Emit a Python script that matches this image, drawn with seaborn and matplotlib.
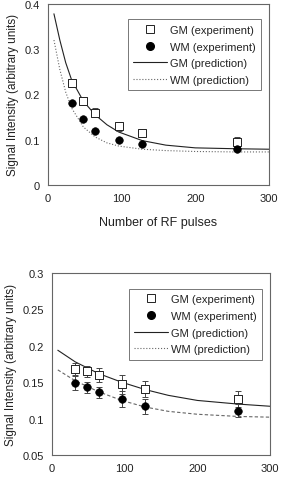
import numpy as np
import pandas as pd
import matplotlib
matplotlib.use("Agg")
import matplotlib.pyplot as plt
import seaborn as sns
from matplotlib.lines import Line2D

# pulse numbers of measurements
pulses = [32, 48, 64, 96, 128, 256]

# top panel
gm_exp_top = [0.225, 0.186, 0.160, 0.130, 0.114, 0.095]
gm_err_top = [0.008, 0.008, 0.010, 0.010, 0.009, 0.010]
wm_exp_top = [0.180, 0.145, 0.120, 0.100, 0.090, 0.080]
wm_err_top = [0.004, 0.004, 0.004, 0.004, 0.004, 0.004]
pred_x_top = [8, 16, 24, 32, 48, 64, 80, 96, 128, 160, 200, 256, 300]
gm_pred_top = [0.378, 0.320, 0.270, 0.232, 0.185, 0.155, 0.133, 0.117, 0.098, 0.088, 0.082, 0.080, 0.079]
wm_pred_top = [0.320, 0.255, 0.205, 0.170, 0.128, 0.106, 0.093, 0.086, 0.079, 0.076, 0.074, 0.073, 0.073]

# bottom panel
gm_exp_bot = [0.168, 0.165, 0.160, 0.147, 0.141, 0.127]
gm_err_bot = [0.008, 0.008, 0.009, 0.013, 0.011, 0.011]
wm_exp_bot = [0.149, 0.143, 0.136, 0.127, 0.117, 0.111]
wm_err_bot = [0.010, 0.008, 0.008, 0.011, 0.010, 0.009]
pred_x_bot = [8, 32, 64, 96, 128, 160, 200, 256, 300]
gm_pred_bot = [0.194, 0.178, 0.162, 0.150, 0.140, 0.132, 0.125, 0.120, 0.117]
wm_pred_bot = [0.167, 0.152, 0.137, 0.125, 0.116, 0.110, 0.106, 0.103, 0.102]

sns.set_theme(style="white")
plt.rcParams['font.family'] = ['Liberation Sans', 'DejaVu Sans']

fig = plt.figure(figsize=(2.81, 4.85), dpi=100)
ax1 = fig.add_axes([0.171, 0.6165, 0.786, 0.3735])
ax2 = fig.add_axes([0.185, 0.0598, 0.776, 0.375])


def draw_panel(ax, gm_exp, gm_err, wm_exp, wm_err, px, gm_pred, wm_pred, wm_ls):
    pred = pd.DataFrame({"x": px, "gm": gm_pred, "wm": wm_pred})
    sns.lineplot(data=pred, x="x", y="gm", ax=ax, color="#222222", lw=0.8)
    sns.lineplot(data=pred, x="x", y="wm", ax=ax, color="#666666", lw=0.8, linestyle=wm_ls)
    ax.errorbar(pulses, gm_exp, yerr=gm_err, fmt="none", ecolor="#444444",
                elinewidth=0.7, capsize=2.5, capthick=0.7)
    ax.errorbar(pulses, wm_exp, yerr=wm_err, fmt="none", ecolor="#444444",
                elinewidth=0.7, capsize=2.5, capthick=0.7)
    exp = pd.DataFrame({"x": pulses, "gm": gm_exp, "wm": wm_exp})
    sns.scatterplot(data=exp, x="x", y="gm", ax=ax, marker="s", s=38,
                    facecolor="white", edgecolor="#222222", linewidth=0.7, zorder=5)
    sns.scatterplot(data=exp, x="x", y="wm", ax=ax, marker="o", s=30,
                    color="black", edgecolor="black", zorder=5)
    for s in ax.spines.values():
        s.set_color("#666666")
        s.set_linewidth(0.8)
    ax.tick_params(axis="both", which="both", direction="out", length=3,
                   width=0.6, color="#666666", labelsize=8, pad=3, labelcolor="#222222")
    ax.set_xlim(0, 300)
    ax.set_xticks([0, 100, 200, 300])
    ax.set_ylabel("Signal Intensity (arbitrary units)", fontsize=8.5, labelpad=4, color="#222222")
    handles = [
        Line2D([], [], marker="s", ls="none", mfc="white", mec="#222222", ms=6, mew=0.7),
        Line2D([], [], marker="o", ls="none", mfc="black", mec="black", ms=5.5),
        Line2D([], [], color="#222222", lw=0.8),
        Line2D([], [], color="#666666", lw=0.8, ls=":"),
    ]
    labels = ["GM (experiment)", "WM (experiment)", "GM (prediction)", "WM (prediction)"]
    leg = ax.legend(handles, labels, loc="upper right", fontsize=8, frameon=True,
                    fancybox=False, edgecolor="#555555", borderpad=0.5,
                    handlelength=3.0, handletextpad=0.3, labelspacing=0.6,
                    bbox_to_anchor=(0.99, 0.945))
    leg.get_frame().set_linewidth(0.7)
    for t in leg.get_texts():
        t.set_color("#222222")


draw_panel(ax1, gm_exp_top, gm_err_top, wm_exp_top, wm_err_top,
           pred_x_top, gm_pred_top, wm_pred_top, ":")
ax1.set_ylim(0, 0.4)
ax1.set_yticks([0, 0.1, 0.2, 0.3, 0.4])
ax1.set_yticklabels(["0", "0.1", "0.2", "0.3", "0.4"])
ax1.set_xlabel("Number of RF pulses", fontsize=9, labelpad=9, color="#222222")

draw_panel(ax2, gm_exp_bot, gm_err_bot, wm_exp_bot, wm_err_bot,
           pred_x_bot, gm_pred_bot, wm_pred_bot, (0, (3, 2)))
ax2.set_ylim(0.05, 0.3)
ax2.set_yticks([0.05, 0.1, 0.15, 0.2, 0.25, 0.3])
ax2.set_yticklabels(["0.05", "0.1", "0.15", "0.2", "0.25", "0.3"])
ax2.set_xlabel("")

fig.savefig("out.png", dpi=100)
